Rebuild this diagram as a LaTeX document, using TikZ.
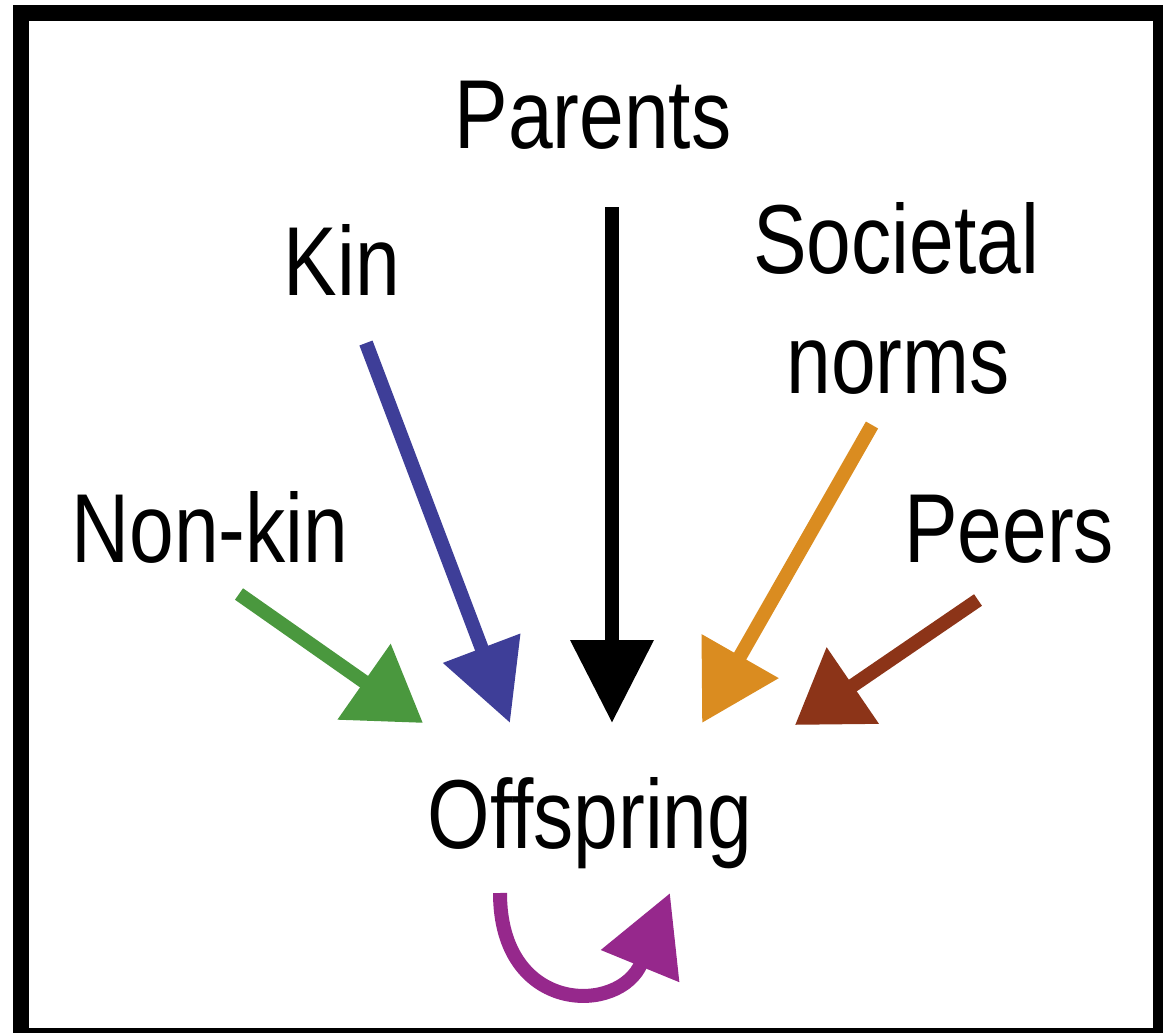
\documentclass[tikz,border=0pt]{standalone}
\usepackage{fontspec}
\setmainfont{Liberation Sans}[FakeStretch=0.82]
\usetikzlibrary{arrows.meta}

\definecolor{nonkinGreen}{RGB}{74,152,62}
\definecolor{kinBlue}{RGB}{62,62,152}
\definecolor{normsOrange}{RGB}{218,140,32}
\definecolor{peersBrown}{RGB}{140,52,24}
\definecolor{selfPurple}{RGB}{150,40,140}

\begin{document}
\begin{tikzpicture}[x=1pt,y=-1pt,
  termtext/.style={font=\fontsize{98}{110}\selectfont, inner sep=0pt, anchor=base},
  influence/.style={line width=14pt},
]
\useasboundingbox (0,0) rectangle (1163,1033);
\clip (0,0) rectangle (1163,1033);

% frame
\draw[line width=16pt] (21,13) rectangle (1161,1036);

% sources of influence and the receiving offspring
\node[termtext] (parents)   at (593,148) {Parents};
\node[termtext] (kin)       at (342,295) {Kin};
\node[termtext] (societal)  at (896,273) {Societal};
\node[termtext] (norms)     at (898,393) {norms};
\node[termtext] (nonkin)    at (210,562) {Non-kin};
\node[termtext] (peers)     at (1009,562) {Peers};
\node[termtext] (offspring) at (590,848) {Offspring};

% arrow end points
\coordinate (parentsTail) at (612,207);
\coordinate (parentsTip)  at (612,723);
\coordinate (kinTail)     at (366,343);
\coordinate (kinTip)      at (510,723);
\coordinate (nonkinTail)  at (239,594);
\coordinate (nonkinTip)   at (423,723);
\coordinate (normsTail)   at (872,425);
\coordinate (normsTip)    at (702,723);
\coordinate (peersTail)   at (978,600);
\coordinate (peersTip)    at (795,725);
\coordinate (loopStart)   at (500,893);
\coordinate (loopTip)     at (670,893);

% vertical transmission
\draw[influence, black, -{Triangle[length=83pt,width=80pt]}] (parentsTail) -- (parentsTip);
% oblique and horizontal transmission
\draw[influence, kinBlue, -{Triangle[length=80pt,width=79pt]}] (kinTail) -- (kinTip);
\draw[influence, nonkinGreen, -{Triangle[length=72pt,width=89pt]}] (nonkinTail) -- (nonkinTip);
\draw[influence, normsOrange, -{Triangle[length=77pt,width=85pt]}] (normsTail) -- (normsTip);
\draw[influence, peersBrown, -{Triangle[length=70pt,width=89pt]}] (peersTail) -- (peersTip);
% self-influence of the offspring
\draw[influence, selfPurple, -{Triangle[length=79pt,width=81pt]}]
  (loopStart) .. controls (500,1015) and (620,1015) .. (loopTip);
\end{tikzpicture}
\end{document}
